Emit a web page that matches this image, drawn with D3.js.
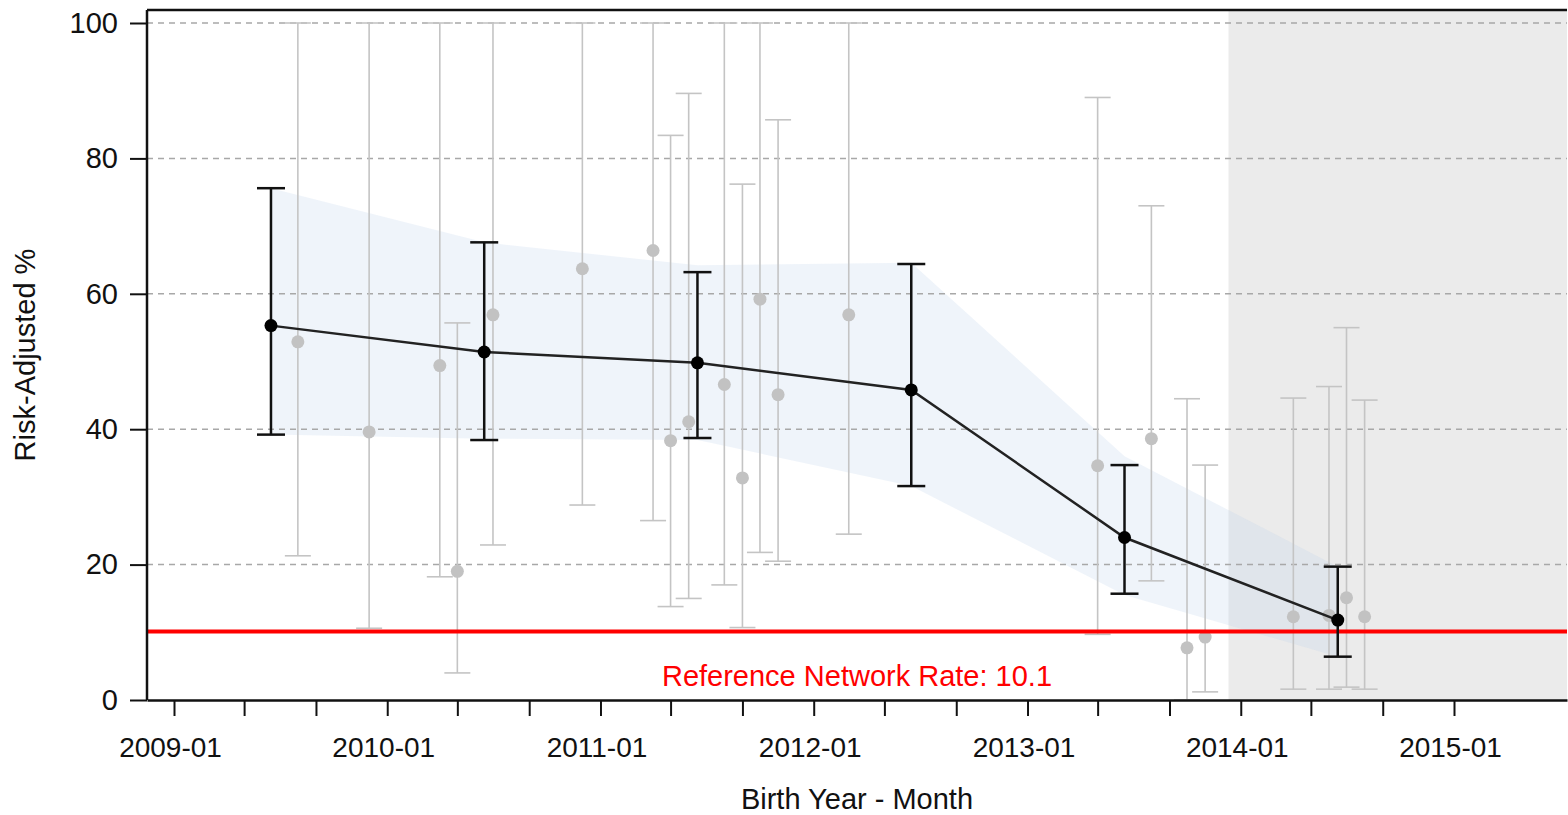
<!DOCTYPE html>
<html>
<head>
<meta charset="utf-8">
<script src="https://cdn.jsdelivr.net/npm/d3@7"></script>
<style>
  html, body { margin: 0; padding: 0; background: #fff; }
  svg text { font-family: "Liberation Sans", Arial, sans-serif; fill: #111; }
</style>
</head>
<body>
<div id="chart"></div>
<script>
// yearly summary points
var yearDates = ["2009-06-16", "2010-06-16", "2011-06-16", "2012-06-16", "2013-06-16", "2014-06-16"];
var yearRate  = [55.3, 51.4, 49.8, 45.8, 24.0, 11.8];
var yearLower = [39.2, 38.4, 38.7, 31.6, 15.7, 6.4];
var yearUpper = [75.6, 67.6, 63.2, 64.4, 34.7, 19.7];
// confidence band behind the yearly line
var bandLower = [39.2, 38.6, 38.4, 31.6, 15.5, 6.4];
var bandUpper = [75.6, 67.6, 64.2, 64.6, 36.0, 19.7];

// monthly points (light grey)
var monthDates = ["2009-08", "2009-12", "2010-04", "2010-05", "2010-07", "2010-12", "2011-04", "2011-05",
                  "2011-06", "2011-08", "2011-09", "2011-10", "2011-11", "2012-03", "2013-05", "2013-08",
                  "2013-10", "2013-11", "2014-04", "2014-06", "2014-07", "2014-08"];
var monthRate  = [52.9, 39.6, 49.4, 19.0, 56.9, 63.7, 66.4, 38.3, 41.1, 46.6, 32.8, 59.2, 45.1, 56.9,
                  34.6, 38.6, 7.7, 9.3, 12.3, 12.5, 15.1, 12.3];
var monthLower = [21.3, 10.6, 18.2, 4.0, 22.9, 28.8, 26.5, 13.8, 15.0, 17.0, 10.7, 21.8, 20.5, 24.5,
                  9.7, 17.6, 0, 1.2, 1.6, 1.6, 1.9, 1.6];
var monthUpper = [100, 100, 100, 55.7, 100, 100, 100, 83.4, 89.6, 100, 76.2, 100, 85.7, 100,
                  89.0, 73.0, 44.5, 34.7, 44.6, 46.3, 55.0, 44.3];

var yTicks = [0, 20, 40, 60, 80, 100];
var xTickStart = "2009-01-01", xTickEnd = "2015-01-02";
var refRate = 10.1;
var refLabel = "Reference Network Rate: 10.1";
var shadeStart = "2013-12-11";
var xTitle = "Birth Year - Month";
var yTitle = "Risk-Adjusted %";

var W = 1568, H = 815;
var plotLeft = 147, plotRight = 1567, plotTop = 10, plotBottom = 700;

var parseDay = d3.utcParse("%Y-%m-%d"), parseMonth = d3.utcParse("%Y-%m");

var svg = d3.select("#chart").append("svg").attr("width", W).attr("height", H);

var x = d3.scaleUtc().domain([new Date(Date.UTC(2009, 0, 1)), new Date(Date.UTC(2015, 0, 1))]).range([174, 1454]);
x.domain([x.invert(plotLeft), x.invert(plotRight)]).range([plotLeft, plotRight]);
var y = d3.scaleLinear().domain([0, 100]).range([plotBottom, 23]);

var years = yearDates.map(function(d, i) {
  return {date: parseDay(d), v: yearRate[i], lo: yearLower[i], hi: yearUpper[i], blo: bandLower[i], bhi: bandUpper[i]};
});
var months = monthDates.map(function(d, i) {
  return {date: parseMonth(d), v: monthRate[i], lo: monthLower[i], hi: monthUpper[i]};
});

// shaded (incomplete) period
var sx = x(parseDay(shadeStart));
svg.append("rect")
  .attr("x", sx).attr("y", plotTop)
  .attr("width", plotRight - sx).attr("height", plotBottom - plotTop)
  .attr("fill", "#ebebeb");

// band
svg.append("path").datum(years)
  .attr("d", d3.area().x(function(d) { return x(d.date); }).y0(function(d) { return y(d.blo); }).y1(function(d) { return y(d.bhi); }))
  .attr("fill", "rgb(190,208,235)").attr("fill-opacity", 0.24);

// gridlines
svg.append("g").selectAll("line").data(yTicks.filter(function(t) { return t > 0; })).enter().append("line")
  .attr("x1", plotLeft).attr("x2", plotRight)
  .attr("y1", function(d) { return y(d); }).attr("y2", function(d) { return y(d); })
  .attr("stroke", "#a8a8a8").attr("stroke-width", 1.5).attr("stroke-dasharray", "6,5");

// monthly error bars
var cap = 13;
var mg = svg.append("g").attr("stroke", "#c4c4c4").attr("stroke-width", 1.6);
months.forEach(function(d) {
  var cx = x(d.date);
  mg.append("line").attr("x1", cx).attr("x2", cx).attr("y1", y(d.hi)).attr("y2", y(d.lo));
  mg.append("line").attr("x1", cx - cap).attr("x2", cx + cap).attr("y1", y(d.hi)).attr("y2", y(d.hi));
  mg.append("line").attr("x1", cx - cap).attr("x2", cx + cap).attr("y1", y(d.lo)).attr("y2", y(d.lo));
});
svg.append("g").selectAll("circle").data(months).enter().append("circle")
  .attr("cx", function(d) { return x(d.date); }).attr("cy", function(d) { return y(d.v); })
  .attr("r", 6.5).attr("fill", "#c2c2c2");

// reference line
svg.append("line").attr("x1", plotLeft).attr("x2", plotRight).attr("y1", y(refRate)).attr("y2", y(refRate))
  .attr("stroke", "#ff0000").attr("stroke-width", 4);
svg.append("text").attr("x", (plotLeft + plotRight) / 2).attr("y", 686).attr("text-anchor", "middle")
  .style("fill", "#ff0000").style("font-size", "29px").text(refLabel);

// yearly error bars, line, points
var yg = svg.append("g").attr("stroke", "#111").attr("stroke-width", 2.5);
years.forEach(function(d) {
  var cx = x(d.date);
  yg.append("line").attr("x1", cx).attr("x2", cx).attr("y1", y(d.hi)).attr("y2", y(d.lo));
  yg.append("line").attr("x1", cx - 14).attr("x2", cx + 14).attr("y1", y(d.hi)).attr("y2", y(d.hi));
  yg.append("line").attr("x1", cx - 14).attr("x2", cx + 14).attr("y1", y(d.lo)).attr("y2", y(d.lo));
});
svg.append("path").datum(years)
  .attr("d", d3.line().x(function(d) { return x(d.date); }).y(function(d) { return y(d.v); }))
  .attr("fill", "none").attr("stroke", "#222").attr("stroke-width", 2.5);
svg.append("g").selectAll("circle").data(years).enter().append("circle")
  .attr("cx", function(d) { return x(d.date); }).attr("cy", function(d) { return y(d.v); })
  .attr("r", 6.5).attr("fill", "#000");

// frame top
svg.append("line").attr("x1", plotLeft).attr("x2", plotRight).attr("y1", plotTop).attr("y2", plotTop)
  .attr("stroke", "#111").attr("stroke-width", 2.5);

// axes
var fmt = d3.utcFormat("%Y-%m");
var xAxis = d3.axisBottom(x)
  .tickValues(d3.utcMonth.every(4).range(parseDay(xTickStart), parseDay(xTickEnd)))
  .tickFormat(function(d) { return d.getUTCMonth() === 0 ? fmt(d) : ""; })
  .tickSize(16).tickSizeOuter(0).tickPadding(21);
var gx = svg.append("g").attr("transform", "translate(0," + plotBottom + ")").call(xAxis);
gx.selectAll("text").style("font-size", "28px").style("fill", "#111").attr("dx", -4);

var yAxis = d3.axisLeft(y).tickValues(yTicks).tickSize(17).tickSizeOuter(0).tickPadding(12);
var gy = svg.append("g").attr("transform", "translate(" + plotLeft + ",0)").call(yAxis);
gy.selectAll("text").style("font-size", "29px").style("fill", "#111");
gy.select(".domain").attr("d", "M0," + plotTop + "V" + plotBottom);

[gx, gy].forEach(function(g) {
  g.select(".domain").attr("stroke", "#111").attr("stroke-width", 2.5);
  g.selectAll(".tick line").attr("stroke", "#111").attr("stroke-width", 2);
});

svg.append("text").attr("x", (plotLeft + plotRight) / 2).attr("y", 809).attr("text-anchor", "middle")
  .style("font-size", "29px").text(xTitle);
svg.append("text").attr("transform", "translate(35,355) rotate(-90)").attr("text-anchor", "middle")
  .style("font-size", "29px").text(yTitle);
</script>
</body>
</html>
